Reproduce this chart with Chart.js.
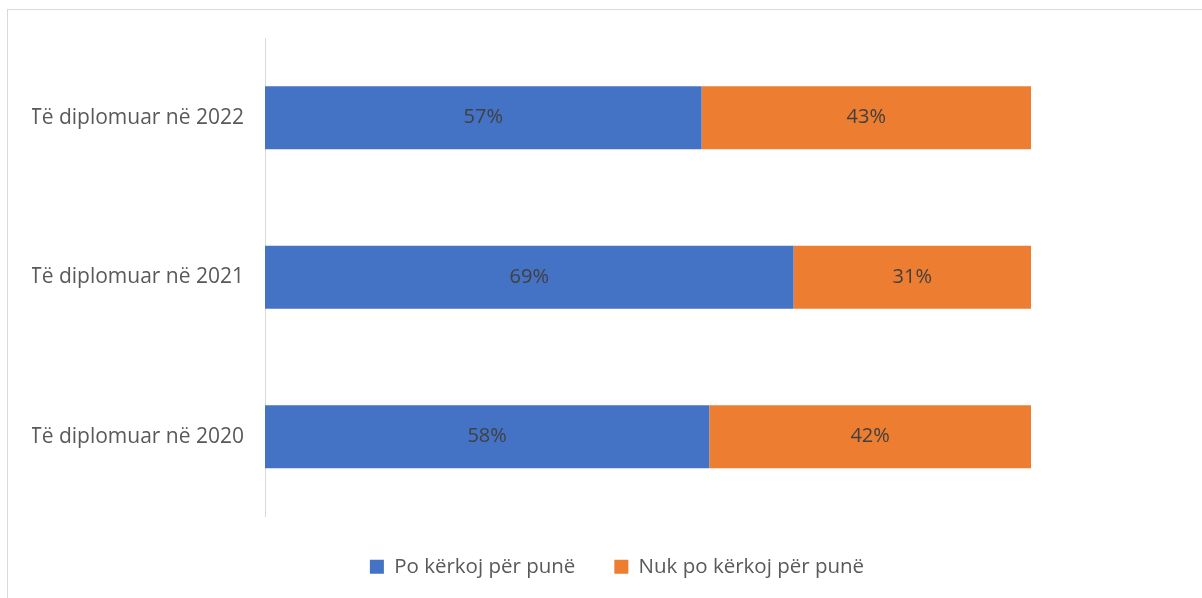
<!DOCTYPE html>
<html lang="sq">
<head>
  <meta charset="UTF-8" />
  <title>Të diplomuar – kërkimi i punës</title>
  <script src="https://cdn.jsdelivr.net/npm/chart.js"></script>
  <style>
    html, body {
      margin: 0;
      padding: 0;
      background: #ffffff;
      overflow: hidden;
    }
    #frame {
      position: absolute;
      left: 7px;
      top: 9px;
      width: 1260px;
      height: 640px;
      border: 1px solid #d9d9d9;
    }
    #wrap {
      position: absolute;
      left: 0;
      top: 0;
      width: 1202px;
      height: 598px;
    }
  </style>
</head>
<body>
  <div id="frame"></div>
  <div id="wrap">
    <canvas id="chart" width="1202" height="598"></canvas>
  </div>

  <script>
    const categories = ['Të diplomuar në 2022', 'Të diplomuar në 2021', 'Të diplomuar në 2020'];
    const seriesNames = ['Po kërkoj për punë', 'Nuk po kërkoj për punë'];
    const lookingForWork = [57, 69, 58];
    const notLookingForWork = [43, 31, 42];

    const FONT = "'Open Sans', Lato, sans-serif";

    // draws the percentage in the middle of each bar
    const barLabels = {
      id: 'barLabels',
      afterDatasetsDraw(chart) {
        const ctx = chart.ctx;
        ctx.save();
        ctx.font = '20px ' + FONT;
        ctx.fillStyle = '#404040';
        ctx.textAlign = 'center';
        ctx.textBaseline = 'middle';
        chart.data.datasets.forEach((ds, i) => {
          chart.getDatasetMeta(i).data.forEach((bar, j) => {
            const p = bar.getCenterPoint();
            ctx.fillText(ds.data[j] + '%', p.x, p.y);
          });
        });
        ctx.restore();
      }
    };

    new Chart(document.getElementById('chart'), {
      type: 'bar',
      data: {
        labels: categories,
        datasets: [
          {
            label: seriesNames[0],
            data: lookingForWork,
            backgroundColor: '#4472C4',
            barPercentage: 0.79,
            categoryPercentage: 0.5
          },
          {
            label: seriesNames[1],
            data: notLookingForWork,
            backgroundColor: '#ED7D31',
            barPercentage: 0.79,
            categoryPercentage: 0.5
          }
        ]
      },
      options: {
        indexAxis: 'y',
        responsive: false,
        animation: false,
        layout: { padding: { top: 38, left: 32, right: 0, bottom: 11 } },
        plugins: {
          legend: {
            position: 'bottom',
            labels: {
              color: '#595959',
              font: { family: FONT, size: 20.5 },
              boxWidth: 14,
              boxHeight: 14,
              padding: 39
            }
          },
          tooltip: { enabled: false }
        },
        scales: {
          x: {
            stacked: true,
            min: 0,
            max: 100,
            grid: { display: false },
            border: { display: false },
            ticks: { display: false },
            afterFit: (axis) => { axis.height = 1; }
          },
          y: {
            stacked: true,
            grid: { display: false, drawTicks: false },
            border: { display: true, color: '#d9d9d9', width: 1 },
            ticks: {
              color: '#595959',
              font: { family: FONT, size: 21 },
              padding: 21
            },
            afterFit: (axis) => { axis.width = 233; }
          },
          yRight: {
            type: 'category',
            position: 'right',
            grid: { display: false },
            border: { display: false },
            ticks: { display: false },
            afterFit: (axis) => { axis.width = 171; }
          }
        }
      },
      plugins: [barLabels]
    });
  </script>
</body>
</html>
